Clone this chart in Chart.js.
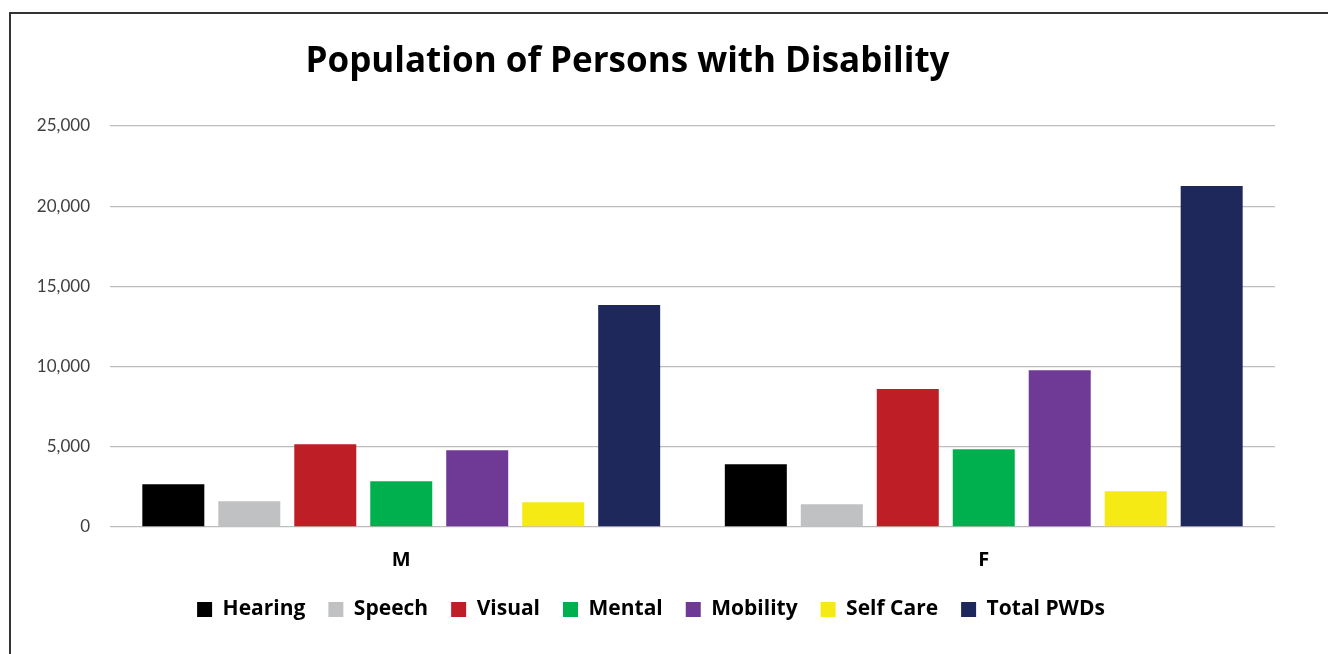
<!DOCTYPE html>
<html>
<head>
<meta charset="utf-8">
<script src="https://cdn.jsdelivr.net/npm/chart.js@4/dist/chart.umd.min.js"></script>
<style>
  html, body { margin: 0; padding: 0; background: #fff; overflow: hidden; }
  #frame { position: absolute; left: 9px; top: 12px; width: 1400px; height: 700px; border: 2px solid #333; }
  #wrap { position: absolute; left: 0; top: 0; width: 1328px; height: 654px; }
</style>
</head>
<body>
<div id="frame"></div>
<div id="wrap"><canvas id="chart"></canvas></div>
<script>
// categories and series
var genders = ["M", "F"];
var seriesNames = ["Hearing", "Speech", "Visual", "Mental", "Mobility", "Self Care", "Total PWDs"];
var hearing  = [2670, 3910];
var speech   = [1600, 1420];
var visual   = [5160, 8600];
var mental   = [2850, 4850];
var mobility = [4790, 9780];
var selfCare = [1540, 2230];
var totalPwd = [13840, 21260];
var yTicks = [0, 5000, 10000, 15000, 20000, 25000];
var titleText = "Population of Persons with Disability";

var colors = ["#000000", "#c0c1c3", "#be1e25", "#00b04f", "#6f3996", "#f5ea13", "#1f285a"];
var values = [hearing, speech, visual, mental, mobility, selfCare, totalPwd];

var font = "Lato, 'Noto Sans', sans-serif";
var wideFont = "'Open Sans', 'Noto Sans', sans-serif";

function makeDatasets(){
    var ds = [];
    for (var i = 0; i < seriesNames.length; i++){
        ds.push({
            label: seriesNames[i],
            data: values[i],
            backgroundColor: colors[i],
            categoryPercentage: 0.913,
            barPercentage: 0.816
        });
    }
    return ds;
}

// the title in the original sits a little left of the plot's centre
var titlePlugin = {
    id: "offsetTitle",
    afterDraw: function(chart){
        var c = chart.ctx;
        c.save();
        c.font = "bold 35px " + wideFont;
        c.fillStyle = "#000";
        c.textAlign = "center";
        c.textBaseline = "middle";
        c.fillText(titleText, 627.5, 62);
        c.restore();
    }
};

var ctx = document.getElementById("chart");
var myChart = new Chart(ctx, {
    type: "bar",
    data: {
        labels: genders,
        datasets: makeDatasets()
    },
    plugins: [titlePlugin],
    options: {
        responsive: true,
        maintainAspectRatio: false,
        animation: false,
        layout: { padding: { left: 27, right: 53, top: 126, bottom: 24 } },
        plugins: {
            title: { display: false },
            legend: {
                position: "bottom",
                labels: {
                    color: "#000",
                    font: { family: wideFont, size: 21, weight: "bold" },
                    boxWidth: 15,
                    boxHeight: 15,
                    padding: 23
                }
            },
            tooltip: { enabled: false }
        },
        scales: {
            x: {
                grid: { display: false, drawTicks: false },
                border: { display: false },
                ticks: {
                    color: "#000",
                    font: { family: wideFont, size: 20, weight: "bold" },
                    padding: 21
                },
                afterFit: function(scale){ scale.height = 49; }
            },
            y: {
                min: 0,
                max: 25000,
                afterBuildTicks: function(scale){
                    scale.ticks = yTicks.map(function(v){ return { value: v }; });
                },
                grid: { color: "#bdbdbd", lineWidth: 1.3, drawTicks: false },
                border: { display: false },
                ticks: {
                    color: "#404040",
                    font: { family: font, size: 17 },
                    padding: 20,
                    callback: function(v){ return v.toLocaleString("en-US"); }
                },
                afterFit: function(scale){ scale.width = 83; }
            }
        }
    }
});
</script>
</body>
</html>
